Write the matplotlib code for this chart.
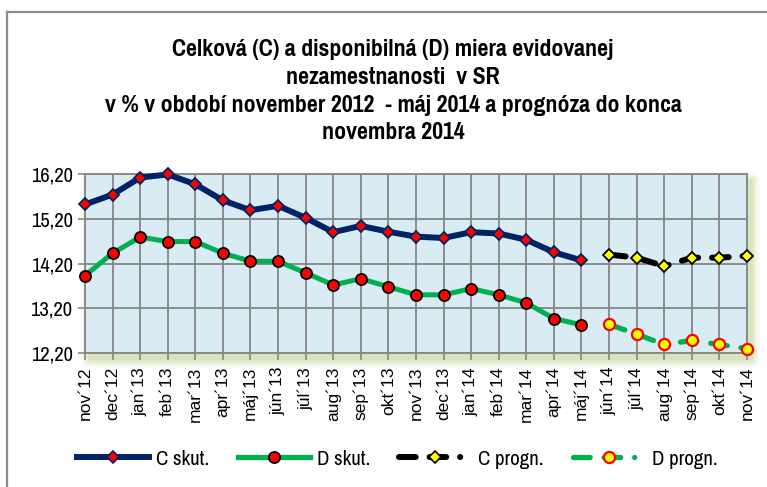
import numpy as np
import matplotlib
matplotlib.use("Agg")
import matplotlib.pyplot as plt
from matplotlib.lines import Line2D
from matplotlib.ticker import FuncFormatter
from matplotlib import font_manager

# ---------------- data ----------------
months = ["nov´12", "dec´12", "jan´13", "feb´13", "mar´13", "apr´13", "máj´13",
          "jún´13", "júl´13", "aug´13", "sep´13", "okt´13", "nov´13", "dec´13",
          "jan´14", "feb´14", "mar´14", "apr´14", "máj´14", "jún´14", "júl´14",
          "aug´14", "sep´14", "okt´14", "nov´14"]
c_actual = [15.52, 15.74, 16.12, 16.19, 15.97, 15.61, 15.39, 15.49, 15.22, 14.90,
            15.04, 14.91, 14.80, 14.77, 14.90, 14.87, 14.73, 14.45, 14.27]
d_actual = [13.93, 14.43, 14.79, 14.69, 14.69, 14.43, 14.25, 14.25, 13.99, 13.72,
            13.86, 13.68, 13.50, 13.50, 13.64, 13.50, 13.32, 12.97, 12.83]
c_forecast = [14.40, 14.33, 14.14, 14.33, 14.33, 14.37]
d_forecast = [12.84, 12.62, 12.39, 12.48, 12.39, 12.30]
yticks = [12.20, 13.20, 14.20, 15.20, 16.20]
series_names = ["C skut.", "D skut.", "C progn.", "D progn."]
title_lines = ["Celková (C) a disponibilná (D) miera evidovanej",
               "nezamestnanosti  v SR",
               "v % v období november 2012  - máj 2014 a prognóza do konca",
               "novembra 2014"]

plt.rcParams['font.family'] = ['Liberation Sans', 'DejaVu Sans']
plt.rcParams['lines.scale_dashes'] = False

names = {f.name for f in font_manager.fontManager.ttflist}
NARROW = 'Liberation Sans'
for cand in ['Arial Narrow', 'Liberation Sans Narrow', 'Pragati Narrow',
             'Roboto Condensed', 'Archivo Narrow', 'Asap Condensed']:
    if cand in names:
        NARROW = cand
        break
NFAM = [NARROW, 'Liberation Sans', 'DejaVu Sans']

W, H = 767, 487
fig = plt.figure(figsize=(W / 100, H / 100), dpi=100)
fig.patch.set_facecolor("white")
renderer = fig.canvas.get_renderer()


def fit_size(text, target_px, weight="normal"):
    t = fig.text(0, 0, text, fontsize=20, family=NFAM, fontweight=weight)
    w = t.get_window_extent(renderer).width
    t.remove()
    return 20.0 * target_px / w


NAVY = "#002366"
GREEN = "#00B050"
RED = "#FF0000"
YEL = "#FFFF00"
GRID = "#868686"

# plot area in pixels
L, R, T, B = 85, 747, 174, 353
ax = fig.add_axes([L / W, 1 - B / H, (R - L) / W, (B - T) / H])
ax.set_facecolor("#DAECF3")
ax.set_zorder(1)

# soft shadow below / right of the plot area
x0, y0, x1, y1 = L - 5, T - 5, W, B + 25
xx, yy = np.meshgrid(np.arange(x0, x1), np.arange(y0, y1))
sx0, sy0, sx1, sy1 = L + 4, T + 6, R + 4, B + 6
dx = np.maximum(0, np.maximum(sx0 - xx, xx - sx1))
dy = np.maximum(0, np.maximum(sy0 - yy, yy - sy1))
d = np.sqrt(dx ** 2 + dy ** 2)
alpha = np.clip(1 - d / 10.0, 0, 1) ** 1.5 * 0.75
img = np.zeros(xx.shape + (4,))
img[..., 0] = 0.80
img[..., 1] = 0.86
img[..., 2] = 0.66
img[..., 3] = alpha
fig.figimage(img, xo=x0, yo=H - y1, origin="upper", zorder=0)

x_all = np.arange(len(months))
x_act = x_all[:len(c_actual)]
x_fc = x_all[len(c_actual):]

dash = (12, 10, 12, 10, 0.1, 10)

ax.plot(x_act, c_actual, color=NAVY, lw=4.3, marker="D", ms=6.2, mfc=RED,
        mec=NAVY, mew=1.3, solid_joinstyle="round", clip_on=False, zorder=4)
ax.plot(x_act, d_actual, color=GREEN, lw=3.6, marker="o", ms=8, mfc=RED,
        mec="black", mew=1.3, solid_joinstyle="round", clip_on=False, zorder=4)
ax.plot(x_fc, c_forecast, color="black", lw=4.3, dashes=dash,
        dash_capstyle="round", marker="D", ms=6.5, mfc=YEL, mec="black", mew=1.3,
        clip_on=False, zorder=4)
ax.plot(x_fc, d_forecast, color=GREEN, lw=3.8, dashes=dash,
        dash_capstyle="round", marker="o", ms=8, mfc=YEL, mec=RED, mew=1.6,
        clip_on=False, zorder=4)

ax.set_xlim(0, len(months) - 1)
ax.set_ylim(yticks[0], yticks[-1])
ax.set_yticks(yticks)
ax.yaxis.set_major_formatter(FuncFormatter(lambda v, p: f"{v:.2f}".replace(".", ",")))
ax.set_xticks(x_all)
ax.set_xticklabels(months, rotation=90, fontsize=12.5)
ysz = fit_size("16,20", 42)
for lab in ax.get_yticklabels():
    lab.set_family(NFAM)
    lab.set_fontsize(ysz)
ax.tick_params(axis="y", length=5, width=1.2, color=GRID, pad=4)
ax.tick_params(axis="x", length=5, width=1.2, color=GRID, pad=5)
ax.grid(True, color=GRID, lw=1.3)
ax.set_axisbelow(True)
for s in ax.spines.values():
    s.set_color(GRID)
    s.set_linewidth(1.3)

# title: four centred bold lines
tsz = fit_size(title_lines[0], 441, weight="bold")
for line, base in zip(title_lines, [56, 84, 112, 139]):
    fig.text(393 / W, 1 - base / H, line, ha="center", va="baseline",
             fontsize=tsz, fontweight="bold", family=NFAM)

# legend
handles = [
    Line2D([], [], color=NAVY, lw=4.3, marker="D", ms=6, mfc=RED, mec=NAVY, mew=1.2),
    Line2D([], [], color=GREEN, lw=3.8, marker="o", ms=8, mfc=RED, mec="black", mew=1.3),
    Line2D([], [], color="black", lw=4.3, dashes=dash, dash_capstyle="round",
           marker="D", ms=6, mfc=YEL, mec="black", mew=1.2),
    Line2D([], [], color=GREEN, lw=3.8, dashes=dash, dash_capstyle="round",
           marker="o", ms=8, mfc=YEL, mec=RED, mew=1.6),
]
lfs = fit_size("C skut.", 53)
lpx = lfs * 100 / 72
fig.legend(handles, series_names, loc="center", bbox_to_anchor=(397 / W, 1 - 459 / H),
           ncol=4, frameon=False, prop={"family": NFAM, "size": lfs},
           handlelength=72 / lpx, handletextpad=7 / lpx,
           columnspacing=29 / lpx, numpoints=1, borderpad=0, borderaxespad=0)

# figure border (top & left visible)
fig.add_artist(Line2D([7 / W, 1.01], [1 - 12 / H, 1 - 12 / H], color="#8C8C8C",
                      lw=1.6, transform=fig.transFigure))
fig.add_artist(Line2D([7 / W, 7 / W], [1 - 12 / H, -0.01], color="#8C8C8C",
                      lw=1.6, transform=fig.transFigure))

fig.savefig("out.png", dpi=100, facecolor="white")
